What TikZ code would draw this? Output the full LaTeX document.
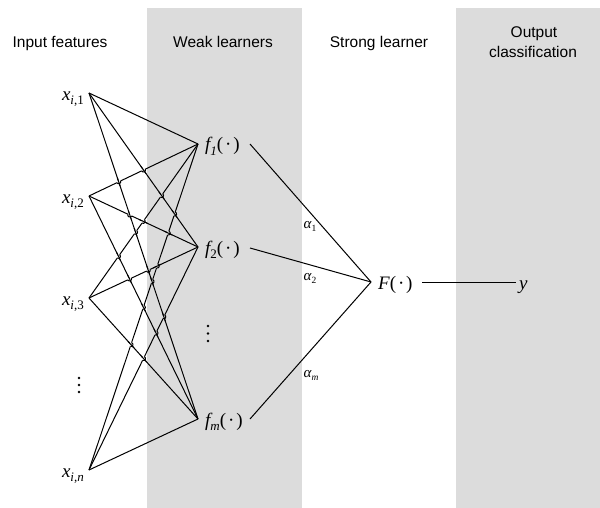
\documentclass[tikz,border=0pt]{standalone}
\usepackage{fontspec}
\setmainfont{Liberation Sans}
\newfontfamily\tms{Liberation Serif}
\usetikzlibrary{calc}
\definecolor{bandgray}{RGB}{220,220,220}
\newcommand\mylbl[2]{{\itshape #1}\raisebox{-0.22em}{\fontsize{13}{13}\selectfont #2}}
\newcommand\argdot{(\hspace{0.1em}·\hspace{0.1em})}
\newcommand\alb[1]{{\itshape α}\raisebox{-0.2em}{\fontsize{9.5}{9.5}\selectfont #1}}
\begin{document}
\begin{tikzpicture}[x=1pt,y=-1pt,
  head/.style={font=\fontsize{15.5}{19.6}\selectfont, anchor=base, inner sep=0pt},
  mlab/.style={font=\fontsize{19}{19}\selectfont\tms, inner sep=0pt},
  alab/.style={font=\fontsize{15}{15}\selectfont\tms, inner sep=0pt},
  edge/.style={line width=1pt, black}]
\useasboundingbox (0,0) rectangle (600,508);
\fill[bandgray] (147,8) rectangle (302,508);
\fill[bandgray] (456,8) rectangle (600,508);
% headers
\node[head] (h1) at (60,47.3) {Input features};
\node[head] (h2) at (223,47.3) {Weak learners};
\node[head] (h3) at (379,47.3) {Strong learner};
\node[head] (h4a) at (534,37.7) {Output};
\node[head] (h4b) at (533,57.3) {classification};
% points
\coordinate (s1) at (89,93);
\coordinate (s2) at (89,196);
\coordinate (s3) at (89,298);
\coordinate (s4) at (89,470);
\coordinate (t1) at (198,144);
\coordinate (t2) at (198,247);
\coordinate (t3) at (198,419);
\coordinate (fo1) at (250,144);
\coordinate (fo2) at (250,248);
\coordinate (fo3) at (250,419);
\coordinate (Fin) at (371,282);
\coordinate (Fout) at (422,282);
\coordinate (yin) at (516,282);
% labels
\node[mlab, anchor=base east] (x1) at (84,100.5) {\mylbl{x}{\textit{i},1}};
\node[mlab, anchor=base east] (x2) at (84,203.5) {\mylbl{x}{\textit{i},2}};
\node[mlab, anchor=base east] (x3) at (84,305.5) {\mylbl{x}{\textit{i},3}};
\node[mlab, anchor=base east] (x4) at (84,477.5) {\mylbl{x}{\textit{i},\textit{n}}};
\node[mlab, anchor=base west] (f1) at (205,151) {\mylbl{f}{\textit{1}}\argdot};
\node[mlab, anchor=base west] (f2) at (205,254) {\mylbl{f}{2}\argdot};
\node[mlab, anchor=base west] (f3) at (205,426) {\mylbl{f}{\textit{m}}\argdot};
\node[mlab, anchor=base west] (F) at (378,289) {{\itshape F}\argdot};
\node[mlab, anchor=base west] (y) at (519,289) {{\itshape y}};
\node[alab] (a1) at (310,226) {\alb{1}};
\node[alab] (a2) at (310,278) {\alb{2}};
\node[alab] (a3) at (311,375) {\alb{\textit{m}}};
% vertical dots
\foreach \yy in {378,385,392} \fill (79,\yy) circle[radius=1.4];
\foreach \yy in {326,333.5,341} \fill (208,\yy) circle[radius=1.4];
% edges input -> weak
\foreach \s in {1,...,4} \foreach \t in {1,2,3} \draw[edge] (s\s) -- (t\t);
% hops at crossings
\def\sylist{{93,196,298,470}}
\def\tylist{{144,247,419}}
\foreach \a in {1,2,3}{
 \pgfmathtruncatemacro\ap{\a+1}
 \foreach \c in {\ap,...,4}{
  \foreach \b in {2,3}{
   \pgfmathtruncatemacro\bm{\b-1}
   \foreach \d in {1,...,\bm}{
     \pgfmathsetmacro\ya{\sylist[\a-1]}
     \pgfmathsetmacro\yc{\sylist[\c-1]}
     \pgfmathsetmacro\yb{\tylist[\b-1]}
     \pgfmathsetmacro\yd{\tylist[\d-1]}
     \pgfmathsetmacro\uu{(\yc-\ya)/((\yb-\ya)-(\yd-\yc))}
     \pgfmathsetmacro\Px{89+109*\uu}
     \pgfmathsetmacro\Py{\ya+(\yb-\ya)*\uu}
     \pgfmathsetmacro\thA{atan2(\yb-\ya,109)}
     \pgfmathsetmacro\thB{atan2(\yd-\yc,109)}
     \ifdim\Px pt>147pt \def\bgc{bandgray}\else\def\bgc{white}\fi
     \draw[draw=\bgc, line width=2.2pt] ($(\Px,\Py)+(\thB:2)$) -- ($(\Px,\Py)+(\thB+180:2)$);
     \draw[edge] ($(\Px,\Py)+(\thA:4.5)$) -- ($(\Px,\Py)+(\thA+180:4.5)$);
     \draw[edge] ($(\Px,\Py)+(\thB:2)$) arc[start angle=\thB, end angle=\thB+180, radius=2];
   }}}}
% weak -> strong
\draw[edge] (fo1) -- (Fin);
\draw[edge] (fo2) -- (Fin);
\draw[edge] (fo3) -- (Fin);
\draw[edge] (Fout) -- (yin);
\end{tikzpicture}
\end{document}
